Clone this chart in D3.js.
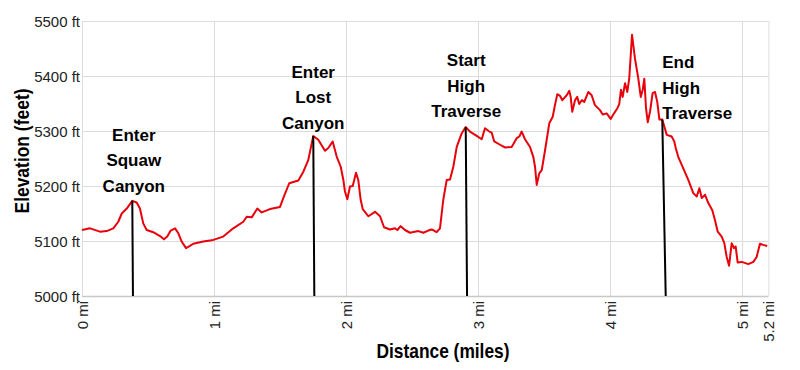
<!DOCTYPE html>
<html>
<head>
<meta charset="utf-8">
<script src="https://cdn.jsdelivr.net/npm/d3@7"></script>
<style>
  body { margin: 0; background: #fff; }
  svg { display: block; }
</style>
</head>
<body>
<svg id="chart" width="800" height="370"></svg>
<script>
// ---- data ----
const distanceMiles = [
  0, 0.061, 0.136, 0.187, 0.237, 0.275, 0.301, 0.339, 0.381, 0.414, 0.439, 0.464, 0.490, 0.540, 0.591, 0.621, 0.646, 0.672, 0.705, 0.730,
  0.755, 0.788, 0.818, 0.843, 0.919, 0.995, 1.070, 1.146, 1.222, 1.248, 1.286, 1.328, 1.361, 1.424, 1.500, 1.530, 1.570, 1.639, 1.677, 1.714,
  1.752, 1.790, 1.841, 1.866, 1.899, 1.930, 1.960, 1.980, 1.992, 2.010, 2.030, 2.051, 2.076, 2.093, 2.111, 2.127, 2.169, 2.220, 2.258, 2.288,
  2.333, 2.371, 2.389, 2.414, 2.447, 2.485, 2.548, 2.586, 2.623, 2.649, 2.687, 2.712, 2.737, 2.763, 2.788, 2.813, 2.839, 2.877, 2.907, 2.939,
  2.990, 3.028, 3.053, 3.086, 3.104, 3.123, 3.167, 3.205, 3.255, 3.293, 3.313, 3.331, 3.356, 3.394, 3.419, 3.432, 3.445, 3.464, 3.483, 3.508,
  3.540, 3.566, 3.583, 3.601, 3.621, 3.639, 3.672, 3.692, 3.702, 3.714, 3.735, 3.752, 3.767, 3.786, 3.805, 3.836, 3.861, 3.886, 3.924, 3.945,
  3.975, 4.005, 4.025, 4.055, 4.070, 4.083, 4.096, 4.114, 4.131, 4.146, 4.167, 4.189, 4.214, 4.233, 4.248, 4.260, 4.273, 4.286, 4.303, 4.323,
  4.341, 4.358, 4.374, 4.396, 4.430, 4.467, 4.487, 4.498, 4.517, 4.555, 4.593, 4.631, 4.657, 4.677, 4.695, 4.720, 4.745, 4.775, 4.795, 4.816,
  4.846, 4.866, 4.884, 4.902, 4.922, 4.939, 4.952, 4.967, 4.998, 5.048, 5.086, 5.111, 5.136, 5.161, 5.191
];
const elevationFeet = [
  5120, 5123, 5117, 5118, 5123, 5135, 5150, 5159, 5173, 5170, 5159, 5132, 5120, 5116, 5109, 5103, 5108, 5119, 5123, 5114,
  5099, 5087, 5091, 5095, 5099, 5102, 5108, 5123, 5135, 5144, 5143, 5159, 5152, 5158, 5162, 5181, 5205, 5210, 5226, 5247,
  5291, 5284, 5264, 5269, 5281, 5253, 5235, 5211, 5190, 5176, 5199, 5200, 5224, 5211, 5175, 5158, 5145, 5153, 5145, 5125,
  5121, 5123, 5120, 5127, 5120, 5115, 5118, 5115, 5119, 5121, 5116, 5123, 5175, 5211, 5212, 5235, 5271, 5296, 5307, 5299,
  5291, 5285, 5305, 5299, 5297, 5281, 5275, 5270, 5271, 5287, 5290, 5299, 5285, 5271, 5253, 5235, 5202, 5223, 5229, 5265,
  5314, 5326, 5347, 5367, 5364, 5356, 5365, 5373, 5362, 5335, 5356, 5362, 5349, 5356, 5353, 5371, 5365, 5347, 5338, 5330,
  5332, 5322, 5330, 5341, 5349, 5375, 5362, 5387, 5371, 5396, 5475, 5432, 5396, 5362, 5375, 5395, 5341, 5316, 5335, 5369,
  5371, 5353, 5321, 5321, 5293, 5290, 5281, 5269, 5253, 5232, 5211, 5187, 5181, 5196, 5178, 5184, 5169, 5156, 5138, 5117,
  5108, 5096, 5071, 5055, 5096, 5087, 5090, 5061, 5062, 5058, 5062, 5071, 5095, 5093, 5091
];
const xTickValues = [0, 1, 2, 3, 4, 5, 5.2];
const xTickLabels = ["0 mi", "1 mi", "2 mi", "3 mi", "4 mi", "5 mi", "5.2 mi"];
const yTickValues = [5000, 5100, 5200, 5300, 5400, 5500];
const yTickLabels = ["5000 ft", "5100 ft", "5200 ft", "5300 ft", "5400 ft", "5500 ft"];

const markerLabels = [["Enter", "Squaw", "Canyon"], ["Enter", "Lost", "Canyon"], ["Start", "High", "Traverse"], ["End", "High", "Traverse"]];
const markerTopMiles = [0.381, 1.752, 2.907, 4.396];
const markerTopFeet = [5173, 5291, 5307, 5321];
const markerBaseMiles = [0.386, 1.760, 2.917, 4.422];

// ---- layout ----
const plot = { left: 82, right: 768.4, top: 21, bottom: 296 };
const labelLayout = [
  { anchor: "middle", dx: 1.5, dy: -60 },
  { anchor: "middle", dx: 0, dy: -58 },
  { anchor: "middle", dx: 0.5, dy: -61 },
  { anchor: "start", dx: 0, dy: -51 }
];
const lineGap = 25.5;
const baseFont = "'Liberation Sans', Arial, sans-serif";

const svg = d3.select("#chart");
const x = d3.scaleLinear().domain([0, 5.2]).range([plot.left, plot.right]);
const y = d3.scaleLinear().domain([5000, 5500]).range([plot.bottom, plot.top]);

// y grid + labels
const yAxis = d3.axisLeft(y)
  .tickValues(yTickValues)
  .tickSize(-(plot.right - plot.left))
  .tickPadding(2)
  .tickFormat((d, i) => yTickLabels[i]);
const gy = svg.append("g").attr("transform", `translate(${plot.left},0)`).call(yAxis);
gy.select(".domain").remove();
gy.selectAll(".tick line").attr("stroke", "#dcdcdc").attr("stroke-width", 1);
gy.selectAll(".tick text")
  .attr("font-family", baseFont).attr("font-size", 15).attr("fill", "#222")
  .attr("dy", "0.35em");

// x grid + labels
const xAxis = d3.axisBottom(x)
  .tickValues(xTickValues)
  .tickSize(-(plot.bottom - plot.top))
  .tickFormat((d, i) => xTickLabels[i]);
const gx = svg.append("g").attr("transform", `translate(0,${plot.bottom})`).call(xAxis);
gx.select(".domain").remove();
gx.selectAll(".tick line").attr("stroke", "#dcdcdc").attr("stroke-width", 1);
gx.selectAll(".tick text")
  .attr("font-family", baseFont).attr("font-size", 15).attr("fill", "#222")
  .attr("text-anchor", "end")
  .attr("transform", "rotate(-90)")
  .attr("x", -5).attr("y", 0).attr("dy", "0.35em");

// baseline
svg.append("line")
  .attr("x1", plot.left).attr("x2", plot.right)
  .attr("y1", y(5000) + 0.5).attr("y2", y(5000) + 0.5)
  .attr("stroke", "#c8c8c8").attr("stroke-width", 1.5);

// elevation line
const pts = distanceMiles.map((d, i) => [d, elevationFeet[i]]);
svg.append("path")
  .datum(pts)
  .attr("fill", "none")
  .attr("stroke", "#e8000b")
  .attr("stroke-width", 2)
  .attr("stroke-linejoin", "round")
  .attr("d", d3.line().x(d => x(d[0])).y(d => y(d[1])));

// markers
markerLabels.forEach((lines, i) => {
  svg.append("line")
    .attr("x1", x(markerTopMiles[i])).attr("y1", y(markerTopFeet[i]))
    .attr("x2", x(markerBaseMiles[i])).attr("y2", y(5000))
    .attr("stroke", "#000").attr("stroke-width", 2);
  const L = labelLayout[i];
  const t = svg.append("text")
    .attr("font-family", baseFont).attr("font-size", 17).attr("font-weight", "bold")
    .attr("fill", "#000").attr("text-anchor", L.anchor);
  lines.forEach((s, j) => {
    t.append("tspan")
      .attr("x", x(markerTopMiles[i]) + L.dx)
      .attr("y", y(markerTopFeet[i]) + L.dy + j * lineGap)
      .text(s);
  });
});

// axis titles (condensed bold)
svg.append("text")
  .attr("x", 443).attr("y", 358)
  .attr("text-anchor", "middle")
  .attr("font-family", baseFont).attr("font-size", 21).attr("font-weight", "bold")
  .attr("textLength", 133).attr("lengthAdjust", "spacingAndGlyphs")
  .attr("fill", "#000")
  .text("Distance (miles)");
svg.append("text")
  .attr("transform", "translate(29,151) rotate(-90)")
  .attr("text-anchor", "middle")
  .attr("font-family", baseFont).attr("font-size", 21).attr("font-weight", "bold")
  .attr("textLength", 125).attr("lengthAdjust", "spacingAndGlyphs")
  .attr("fill", "#000")
  .text("Elevation (feet)");
</script>
</body>
</html>
